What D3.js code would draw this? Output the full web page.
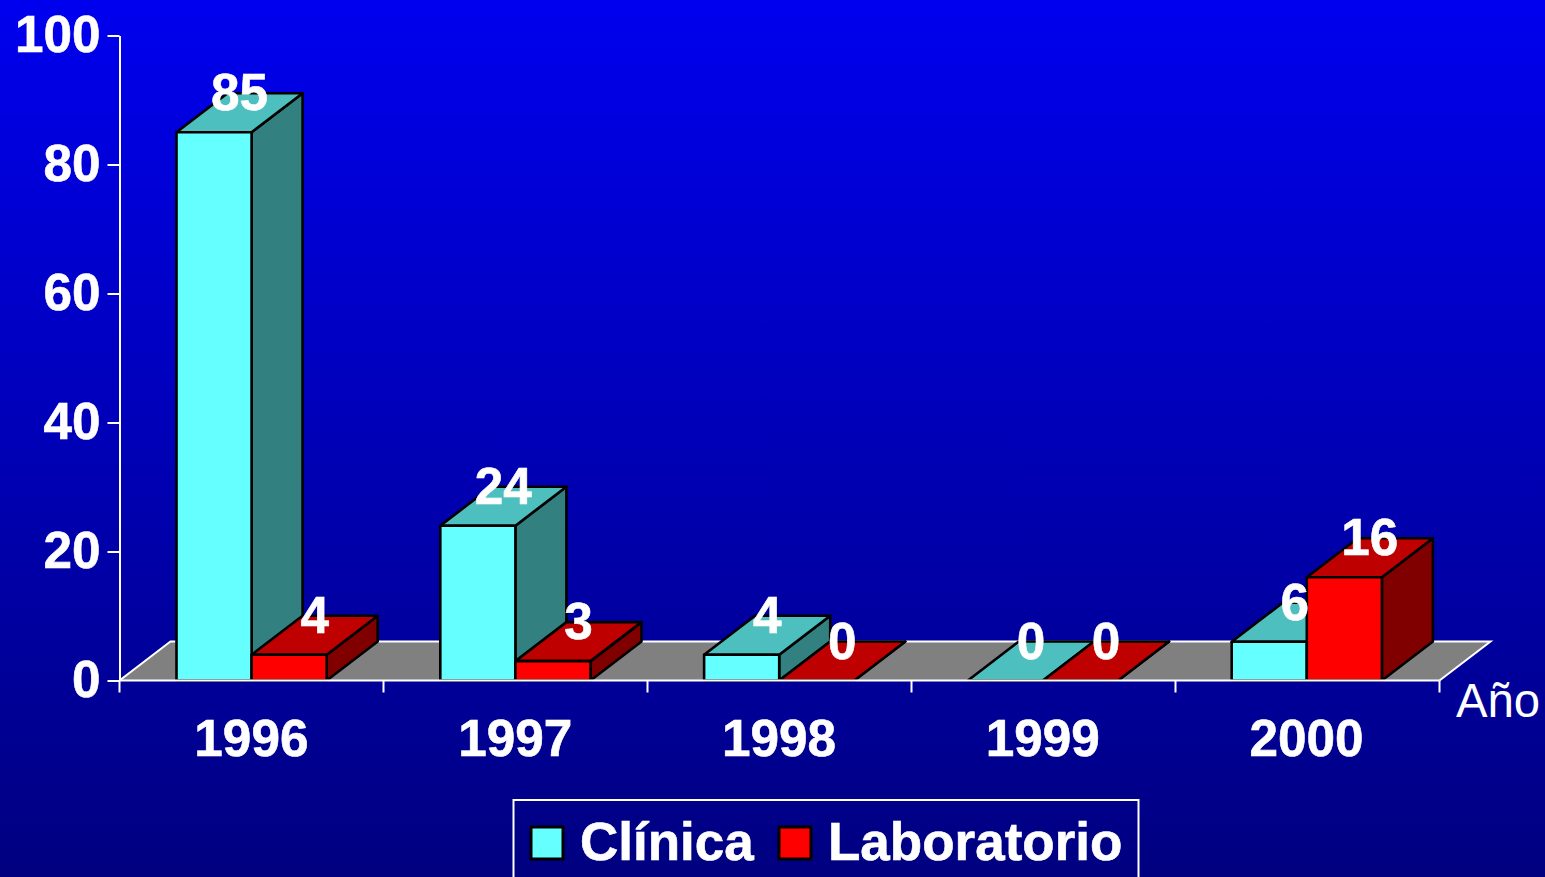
<!DOCTYPE html>
<html>
<head>
<meta charset="utf-8">
<script src="https://cdn.jsdelivr.net/npm/d3@7"></script>
<style>
  html, body { margin: 0; padding: 0; background: #000080; overflow: hidden; }
  text { font-family: "Liberation Sans", Arial, sans-serif; fill: white; }
  .bold { stroke: white; stroke-width: 0.6px; }
</style>
</head>
<body>
<div class="chart"></div>
<script>
// Chart data
const years = ['1996', '1997', '1998', '1999', '2000'];
const clinica = [85, 24, 4, 0, 6];
const laboratorio = [4, 3, 0, 0, 16];
const seriesNames = ['Clínica', 'Laboratorio'];
const yTicks = [0, 20, 40, 60, 80, 100];
const xTitle = 'Año';

const width = 1545, height = 877;
const depthX = 51, depthY = 39;

const colors = [
  {front: '#66ffff', top: '#4dbfbf', side: '#338080'},
  {front: '#ff0000', top: '#bf0000', side: '#800000'}
];

const svg = d3.select('.chart')
              .append('svg')
              .attr('width', width)
              .attr('height', height)
              .style('display', 'block');

// Background gradient
const grad = svg.append('defs')
                .append('linearGradient')
                .attr('id', 'bg')
                .attr('x1', 0).attr('x2', 0)
                .attr('y1', 0).attr('y2', 1);
grad.append('stop').attr('offset', '0%').attr('stop-color', '#0000ee');
grad.append('stop').attr('offset', '100%').attr('stop-color', '#000080');
svg.append('rect')
   .attr('width', width)
   .attr('height', height)
   .attr('fill', 'url(#bg)');

// Scales
const x = d3.scaleBand().domain(years).range([119.5, 1439.5]);
// bars sit on a slightly shorter step than the ticks
const xBars = d3.scaleBand().domain(years).range([119.5, 1438.5]);
const xInner = d3.scaleBand().domain(seriesNames).range([57, xBars.bandwidth() - 56.6]);
const y = d3.scaleLinear().domain([0, 100]).range([680.5, 35.5]);

// Floor
const x0 = x.range()[0], x1 = x.range()[1], y0 = y(0);
svg.append('path')
   .attr('d', `M${x0},${y0}L${x0 + depthX},${y0 - depthY}L${x1 + depthX},${y0 - depthY}L${x1},${y0}Z`)
   .attr('fill', '#808080');
svg.append('path')
   .attr('d', `M${x0},${y0}L${x0 + depthX},${y0 - depthY}L${x1 + depthX},${y0 - depthY}L${x1},${y0}`)
   .attr('fill', 'none')
   .attr('stroke', 'white')
   .attr('stroke-width', 2);

// Flatten the two series, left to right
const bars = [];
years.forEach(function (year, i) {
  bars.push({year: year, name: seriesNames[0], value: clinica[i], c: colors[0]});
  bars.push({year: year, name: seriesNames[1], value: laboratorio[i], c: colors[1]});
});

const barLeft = d => xBars(d.year) + xInner(d.name);
const barRight = d => barLeft(d) + xInner.bandwidth();

const bar = svg.append('g')
               .selectAll('g')
               .data(bars)
               .enter()
               .append('g')
               .attr('stroke', 'black')
               .attr('stroke-width', 2.6)
               .attr('stroke-linejoin', 'round');

// side face
bar.append('path')
   .attr('fill', d => d.c.side)
   .attr('d', d => `M${barRight(d)},${y0}L${barRight(d) + depthX},${y0 - depthY}L${barRight(d) + depthX},${y(d.value) - depthY}L${barRight(d)},${y(d.value)}Z`);
// top face
bar.append('path')
   .attr('fill', d => d.c.top)
   .attr('d', d => `M${barLeft(d)},${y(d.value)}L${barLeft(d) + depthX},${y(d.value) - depthY}L${barRight(d) + depthX},${y(d.value) - depthY}L${barRight(d)},${y(d.value)}Z`);
// front face
bar.filter(d => d.value > 0)
   .append('rect')
   .attr('fill', d => d.c.front)
   .attr('x', barLeft)
   .attr('y', d => y(d.value))
   .attr('width', xInner.bandwidth())
   .attr('height', d => y0 - y(d.value));

// Axes
const yAxis = svg.append('g')
                 .attr('transform', `translate(${x0},0)`)
                 .call(d3.axisLeft(y).tickValues(yTicks).tickSize(12).tickSizeOuter(0).tickPadding(7));
const xAxis = svg.append('g')
                 .attr('transform', `translate(0,${y0})`)
                 .call(d3.axisBottom(xBars).tickSize(0).tickSizeOuter(0).tickPadding(56));

[yAxis, xAxis].forEach(function (axis) {
  axis.selectAll('path,line').attr('stroke', 'white').attr('stroke-width', 2);
  axis.selectAll('text')
      .attr('class', 'bold')
      .attr('fill', 'white')
      .style('font-family', '"Liberation Sans", Arial, sans-serif')
      .style('font-size', '51.3px')
      .style('font-weight', 'bold');
});
yAxis.selectAll('text').attr('dy', 16);
xAxis.selectAll('text').attr('dy', 0).attr('y', 75);

// the x axis runs the full width, bars scale stops a little short
xAxis.select('.domain').attr('d', `M${x0},0H${x1}`);

// ticks between the years
xAxis.selectAll('.edge')
     .data(years.map(d => x(d)).concat([x1]))
     .enter()
     .append('line')
     .attr('class', 'edge')
     .attr('x1', d => d).attr('x2', d => d)
     .attr('y1', 0).attr('y2', 12)
     .attr('stroke', 'white')
     .attr('stroke-width', 2);

// Value labels
svg.append('g')
   .selectAll('text')
   .data(bars)
   .enter()
   .append('text')
   .attr('class', 'bold')
   .attr('x', d => barLeft(d) + xInner.bandwidth() / 2 + depthX / 2)
   .attr('y', d => y(d.value) - depthY + 17)
   .attr('text-anchor', 'middle')
   .style('font-size', '51.3px')
   .style('font-weight', 'bold')
   .text(d => d.value);

// Axis title
svg.append('text')
   .attr('x', 1456)
   .attr('y', 717)
   .style('font-size', '47.3px')
   .text(xTitle);

// Legend
svg.append('rect')
   .attr('x', 513.5).attr('y', 800)
   .attr('width', 625).attr('height', 90)
   .attr('fill', 'none')
   .attr('stroke', 'white')
   .attr('stroke-width', 2);

const legendSwatchX = [530, 778], legendTextX = [580, 828];
const legend = svg.append('g')
                  .selectAll('g')
                  .data(seriesNames)
                  .enter()
                  .append('g');
legend.append('rect')
      .attr('x', (d, i) => legendSwatchX[i] + 1)
      .attr('y', 827)
      .attr('width', 32)
      .attr('height', 32)
      .attr('fill', (d, i) => colors[i].front)
      .attr('stroke', 'black')
      .attr('stroke-width', 3);
legend.append('text')
      .attr('class', 'bold')
      .attr('x', (d, i) => legendTextX[i])
      .attr('y', 860)
      .style('font-size', '53px')
      .style('font-weight', 'bold')
      .text(d => d);
</script>
</body>
</html>
